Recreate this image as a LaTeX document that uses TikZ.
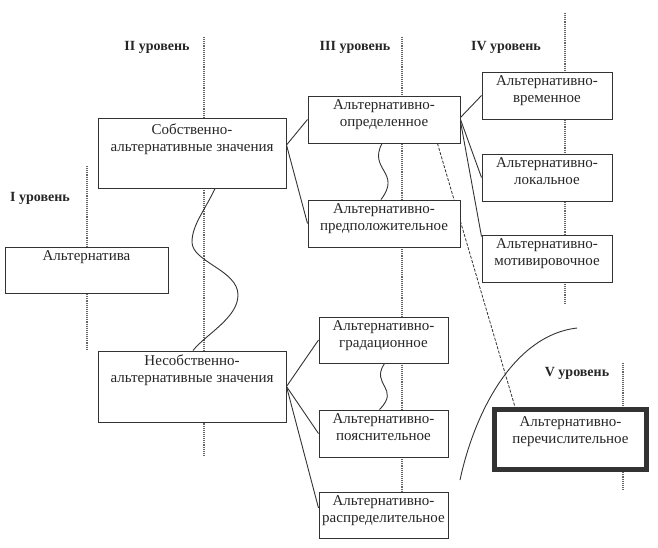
\documentclass[tikz,border=0pt]{standalone}
\usepackage{fontspec}
\setmainfont{Liberation Serif}
\usetikzlibrary{backgrounds}

\tikzset{
  blok/.style={draw=black!80, fill=white, line width=1pt, inner sep=0pt},
  tekst/.style={anchor=north, align=center, yshift=-1pt, text=black!85,
    font=\fontsize{15}{17}\selectfont},
  uroven/.style={text=black!85, font=\bfseries\fontsize{14}{16}\selectfont},
  os/.style={draw=black!60, densely dotted, line width=1.1pt},
  svyaz/.style={draw=black!80, line width=0.9pt},
}

\begin{document}
\begin{tikzpicture}[x=1pt, y=-1pt]
\useasboundingbox (0,0) rectangle (658,547);
%уровни%
\node[uroven] (u1) at (40,198) {I уровень};
\node[uroven] (u2) at (157,47) {II уровень};
\node[uroven] (u3) at (355,47) {III уровень};
\node[uroven] (u4) at (506,47) {IV уровень};
\node[uroven] (u5) at (577,373) {V уровень};
%прямоугольники%
\node[blok, minimum width=163pt, minimum height=46pt,
  label={[tekst]north:{Альтернатива}}] (alt) at (86.5,270) {};
\node[blok, minimum width=188pt, minimum height=70pt,
  label={[tekst, yshift=-2pt]north:{Собственно-\\альтернативные значения}}] (sob) at (192,153) {};
\node[blok, minimum width=188pt, minimum height=71pt,
  label={[tekst]north:{Несобственно-\\альтернативные значения}}] (nes) at (192,386.5) {};
\node[blok, minimum width=152pt, minimum height=47pt,
  label={[tekst]north:{Альтернативно-\\определенное}}] (opr) at (384,119.5) {};
\node[blok, minimum width=152pt, minimum height=47pt,
  label={[tekst]north:{Альтернативно-\\предположительное}}] (pre) at (384,223.5) {};
\node[blok, minimum width=130pt, minimum height=47pt,
  label={[tekst]north:{Альтернативно-\\временное}}] (vre) at (547,95.5) {};
\node[blok, minimum width=130pt, minimum height=47pt,
  label={[tekst]north:{Альтернативно-\\локальное}}] (lok) at (547,177.5) {};
\node[blok, minimum width=130pt, minimum height=47pt,
  label={[tekst]north:{Альтернативно-\\мотивировочное}}] (mot) at (547,258.5) {};
\node[blok, minimum width=129pt, minimum height=46pt,
  label={[tekst]north:{Альтернативно-\\градационное}}] (gra) at (383.5,340) {};
\node[blok, minimum width=129pt, minimum height=47pt,
  label={[tekst]north:{Альтернативно-\\пояснительное}}] (poy) at (383.5,433.5) {};
\node[blok, minimum width=129pt, minimum height=46pt,
  label={[tekst]north:{Альтернативно-\\распределительное}}] (ras) at (383.5,515) {};
\node[blok, line width=5pt, minimum width=152pt, minimum height=60pt,
  label={[tekst, yshift=-5pt]north:{Альтернативно-\\перечислительное}}] (per) at (570.5,439.5) {};
%связи%
\draw[svyaz] ([yshift=8pt]sob.east) -- (opr.west);
\draw[svyaz] ([yshift=8pt]sob.east) -- (pre.west);
\draw[svyaz] (nes.east) -- (gra.west);
\draw[svyaz] (nes.east) -- (poy.west);
\draw[svyaz] (nes.east) -- ([yshift=7pt]ras.west);
\draw[svyaz] ([yshift=2pt]opr.east) -- (vre.west);
\draw[svyaz] (opr.east) -- (lok.west);
\draw[svyaz] ([yshift=-2pt]opr.east) -- ([yshift=-2pt]mot.north west);
%волны%
\draw[svyaz] ([xshift=23pt]sob.south) .. controls (205,210) and (192,225) .. (192,242)
  .. controls (192,262) and (238,270) .. (238,295)
  .. controls (238,318) and (205,335) .. ([xshift=1pt]nes.north);
\draw[svyaz] ([xshift=-2pt]opr.south) .. controls (368,170) and (402,172) .. ([xshift=-3pt]pre.north);
\draw[svyaz] ([xshift=1pt]gra.south) .. controls (370,385) and (401,388) .. ([xshift=-4pt]poy.north);
%дуга%
\draw[svyaz] (460,480) .. controls (475,410) and (515,335) .. (577,328);
%оси%
\begin{scope}[on background layer]
\draw[os] (87,166) -- (87,350);
\draw[os] (204,37) -- (204,455);
\draw[os] (402,37) -- (402,492);
\draw[os] (565,13) -- (565,303);
\draw[os] (623,363) -- (623,490);
\draw[black!80, dash pattern=on 3pt off 1.5pt, line width=0.8pt]
  ([xshift=-23pt]opr.south east) -- ([xshift=23pt]per.north west);
\end{scope}
\end{tikzpicture}
\end{document}
